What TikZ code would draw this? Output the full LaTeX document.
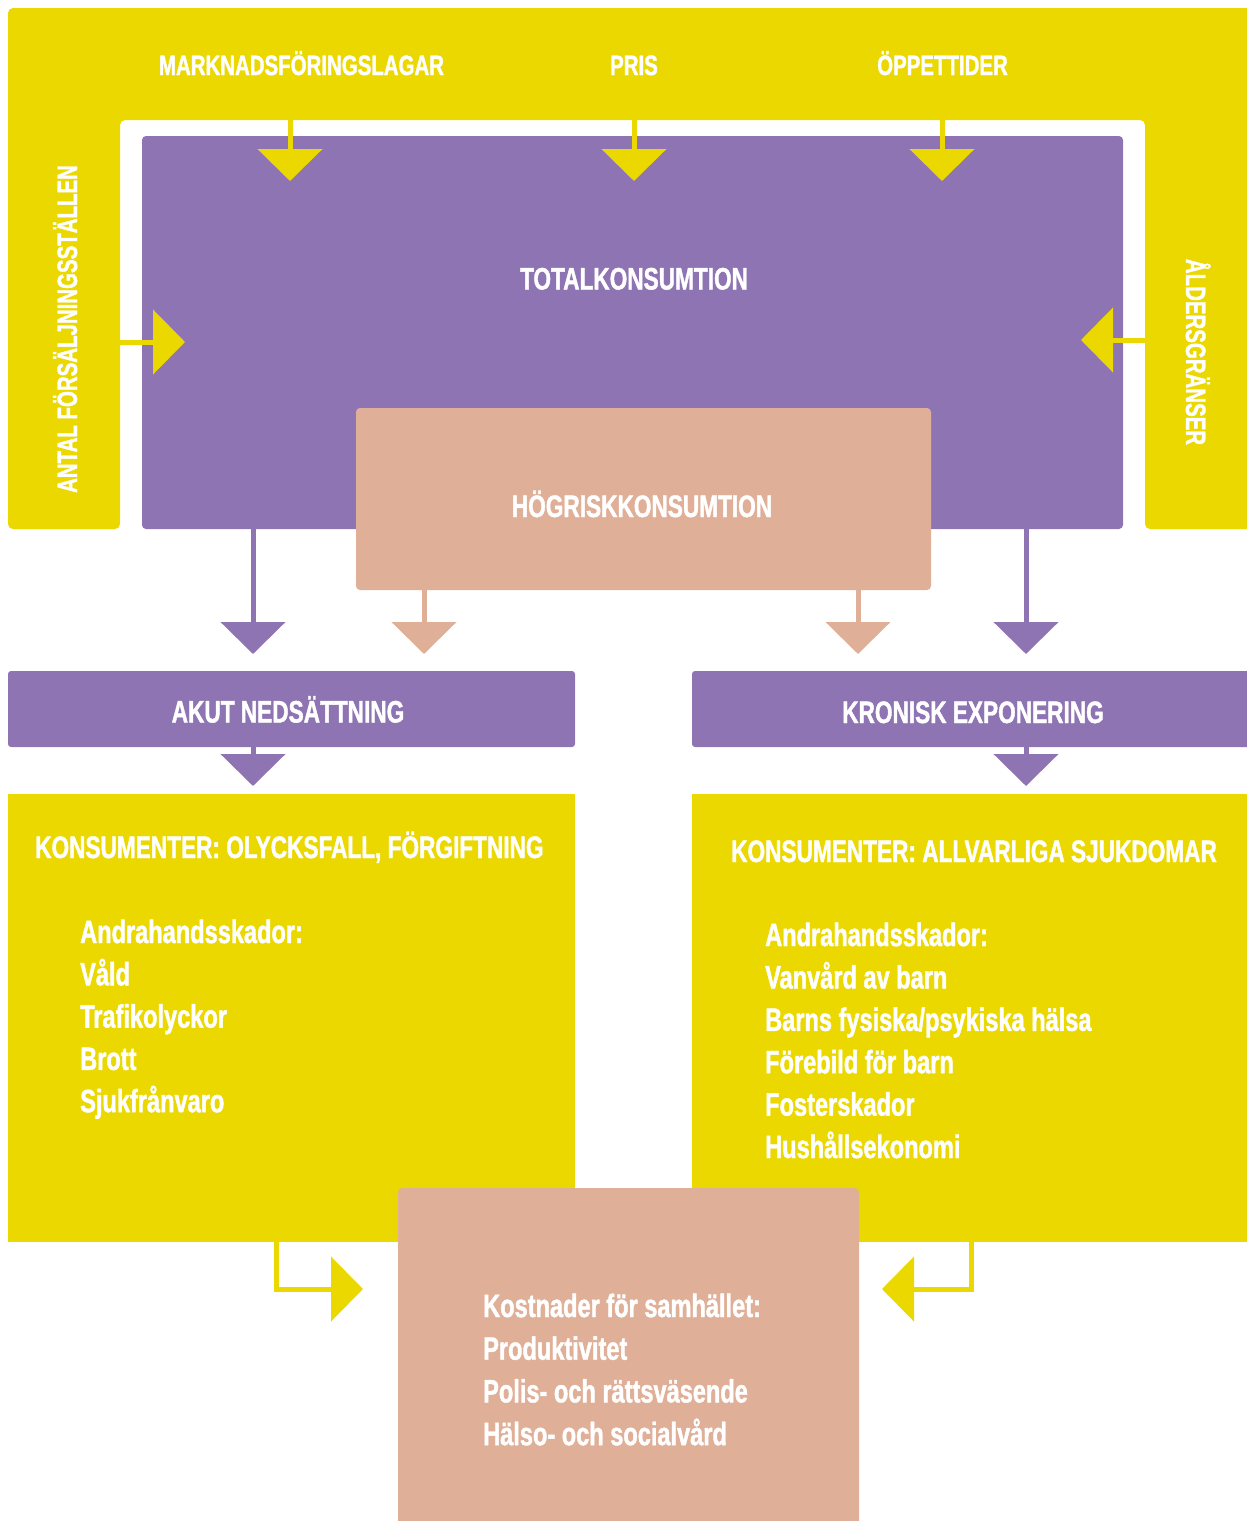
\documentclass[tikz,border=0pt]{standalone}
\usepackage{fontspec}
\setmainfont{Liberation Sans}[FakeStretch=0.73,FakeBold=1.3]
\usetikzlibrary{arrows.meta}
\definecolor{ylw}{HTML}{EBD800}
\definecolor{prp}{HTML}{8F74B3}
\definecolor{pnk}{HTML}{E0AF98}
\begin{document}
\begin{tikzpicture}[x=1pt,y=-1pt,
  box/.style={rectangle, inner sep=0pt, outer sep=0pt, anchor=north west},
  capl/.style={text=white, inner sep=0pt, anchor=base, font=\bfseries\fontsize{28}{34}\selectfont},
  head/.style={text=white, inner sep=0pt, anchor=base, font=\bfseries\fontsize{31}{37}\selectfont},
  itm/.style={text=white, inner sep=0pt, anchor=base west, font=\bfseries\fontsize{32.3}{38}\selectfont},
  yarr/.style={draw=ylw, line width=5pt, -{Triangle[width=64pt,length=32pt]}},
  parr/.style={draw=prp, line width=5pt, -{Triangle[width=64pt,length=32pt]}},
  karr/.style={draw=pnk, line width=5pt, -{Triangle[width=64pt,length=32pt]}},
  elbow/.style={draw=ylw, line width=5pt, miter limit=4, -{Triangle[width=64pt,length=32pt]}}
]
\useasboundingbox (0,0) rectangle (1247,1521);
% yellow frame
\fill[ylw, rounded corners=5pt] (8,529) -- (8,8) -- (1260,8) -- (1260,529) -- (1145,529) -- (1145,120) -- (120,120) -- (120,529) -- cycle;
% boxes
\node[box, fill=prp, rounded corners=4pt, minimum width=981pt, minimum height=393pt] (tot) at (142,136) {};
\node[box, fill=pnk, rounded corners=4pt, minimum width=575pt, minimum height=182pt] (hog) at (356,408) {};
\node[box, fill=prp, rounded corners=3pt, minimum width=567pt, minimum height=76pt] (akut) at (8,671) {};
\node[box, fill=prp, rounded corners=3pt, minimum width=570pt, minimum height=76pt] (kron) at (692,671) {};
\node[box, fill=ylw, minimum width=567pt, minimum height=448pt] (lbox) at (8,794) {};
\node[box, fill=ylw, minimum width=570pt, minimum height=448pt] (rbox) at (692,794) {};
\node[box, fill=pnk, rounded corners=4pt, minimum width=461pt, minimum height=345pt] (kost) at (398,1188) {};
% labels
\node[capl] (mk) at (301.5,75) {MARKNADSFÖRINGSLAGAR};
\node[capl] (pris) at (634,75) {PRIS};
\node[capl] (opp) at (942.5,75) {ÖPPETTIDER};
\node[capl, rotate=90] (antal) at (77,329) {ANTAL FÖRSÄLJNINGSSTÄLLEN};
\node[capl, rotate=-90] (alder) at (1186,352) {ÅLDERSGRÄNSER};
\node[head] (totl) at (634,289.5) {TOTALKONSUMTION};
\node[head] (hogl) at (642,517) {HÖGRISKKONSUMTION};
\node[head] (akutl) at (288,722.5) {AKUT NEDSÄTTNING};
\node[head] (kronl) at (973,723) {KRONISK EXPONERING};
\node[head, anchor=base west] (lhead) at (35,858) {KONSUMENTER: OLYCKSFALL, FÖRGIFTNING};
\node[head, anchor=base west] (rhead) at (731,862) {KONSUMENTER: ALLVARLIGA SJUKDOMAR};
\foreach \t [count=\i] in {Andrahandsskador:, Våld, Trafikolyckor, Brott, Sjukfrånvaro}
  \node[itm] (li\i) at (80,{943+42.3*(\i-1)}) {\t};
\foreach \t [count=\i] in {Andrahandsskador:, Vanvård av barn, Barns fysiska/psykiska hälsa, Förebild för barn, Fosterskador, Hushållsekonomi}
  \node[itm] (ri\i) at (765,{946+42.4*(\i-1)}) {\t};
\foreach \t [count=\i] in {Kostnader för samhället:, Produktivitet, Polis- och rättsväsende, Hälso- och socialvård}
  \node[itm] (ki\i) at (483,{1317+42.7*(\i-1)}) {\t};
% connector coordinates
\coordinate (t1s) at (290,118); \coordinate (t1e) at (290,181);
\coordinate (t2s) at (634,118); \coordinate (t2e) at (634,181);
\coordinate (t3s) at (942,118); \coordinate (t3e) at (942,181);
\coordinate (sls) at (118,342); \coordinate (sle) at (185,342);
\coordinate (srs) at (1147,340); \coordinate (sre) at (1081,340);
\coordinate (d1e) at (253,654); \coordinate (d2e) at (424,654);
\coordinate (d3e) at (858,654); \coordinate (d4e) at (1026,654);
\coordinate (e1e) at (253,786); \coordinate (e2e) at (1026,786);
\coordinate (lc) at (276,1289); \coordinate (lte) at (363,1289);
\coordinate (rc) at (971,1289); \coordinate (rte) at (882,1289);
% connectors
\draw[yarr] (t1s) -- (t1e);
\draw[yarr] (t2s) -- (t2e);
\draw[yarr] (t3s) -- (t3e);
\draw[yarr] (sls) -- (sle);
\draw[yarr] (srs) -- (sre);
\draw[parr] (tot.south -| d1e) -- (d1e);
\draw[karr] (hog.south -| d2e) -- (d2e);
\draw[karr] (hog.south -| d3e) -- (d3e);
\draw[parr] (tot.south -| d4e) -- (d4e);
\draw[parr] (akut.south -| e1e) -- (e1e);
\draw[parr] (kron.south -| e2e) -- (e2e);
\draw[elbow] (lbox.south -| lc) -- (lc) -- (lte);
\draw[elbow] (rbox.south -| rc) -- (rc) -- (rte);
\end{tikzpicture}
\end{document}
